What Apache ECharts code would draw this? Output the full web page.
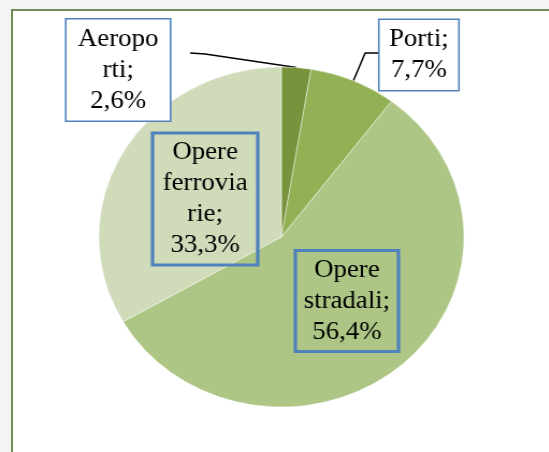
<!DOCTYPE html>
<html>
<head>
<meta charset="utf-8">
<script src="https://cdn.jsdelivr.net/npm/echarts@6/dist/echarts.min.js"></script>
<style>
    body{margin:0;background:#f4f4f2;overflow:hidden;}
    /*外框*/
    #frame{position:absolute;left:11px;top:9px;width:600px;height:500px;background:#fff;
        border-left:2px solid #6f8d55;border-top:2px solid #6f8d55;}
    /*原图横向拉伸，所以整体 scaleX*/
    #main{position:absolute;left:0;top:0;width:511px;height:452px;
        transform:scaleX(1.074);transform-origin:0 0;}
</style>
</head>
<body>
<div id="frame"></div>
<div id="main"></div>
<script>
// 数据
var categories = ["Aeroporti", "Porti", "Opere stradali", "Opere ferroviarie"];
var values = [2.6, 7.7, 56.4, 33.3];
var labelTexts = ["Aeropo\nrti;\n2,6%", "Porti;\n7,7%", "Opere\nstradali;\n56,4%", "Opere\nferrovia\nrie;\n33,3%"];
var colors = ["#77933c", "#92b054", "#adc686", "#cfdbb9"];

var myChart = echarts.init(document.getElementById("main"));

// 标签位置（框中心）和宽度
var labelBox = [
    {x:110, y:70, w:88, inside:false},
    {x:390, y:55, w:65, inside:false},
    {x:323, y:301, w:88, inside:true},
    {x:191, y:199, w:90, inside:true}
];

var pieData = [];
for(var i=0;i<categories.length;i++){
    var box = labelBox[i];
    pieData.push({
        name: categories[i],
        value: values[i],
        itemStyle: {color: colors[i]},
        label: {
            position: box.inside ? "inside" : "outside",
            backgroundColor: box.inside ? "transparent" : "#fff",
            width: box.w,
            fontFamily: "serif"
        },
        labelLine: {show: !box.inside}
    });
}

var option = {
    animation: false,
    textStyle: {fontFamily: "serif"},
    series: [
        {
            type: "pie",
            center: [262, 237],
            radius: 170,
            startAngle: 90,
            clockwise: true,
            data: pieData,
            itemStyle: {borderColor: "rgba(255,255,255,0.6)", borderWidth: 0.7},
            label: {
                formatter: function(p){ return labelTexts[p.dataIndex]; },
                fontFamily: "serif",
                fontSize: 25,
                lineHeight: 31,
                color: "#000",
                textBorderWidth: 0,
                align: "center",
                borderColor: "#4f81bd",
                borderWidth: 1.6,
                padding: [4, 4]
            },
            labelLine: {
                lineStyle: {color: "#000", width: 1.5}
            },
            labelLayout: function(params){
                var box = labelBox[params.dataIndex];
                var res = {x: box.x, y: box.y, align: "center", verticalAlign: "middle"};
                var pts = params.labelLinePoints;
                if(!box.inside && pts){
                    var p0 = pts[0];
                    var end, elbow;
                    if(params.dataIndex == 0){
                        end = [box.x + 67, 53];
                        elbow = [end[0] + 14, 54];
                    }else{
                        end = [box.x - 38, 53];
                        elbow = [end[0] - 12, 53];
                    }
                    res.labelLinePoints = [p0, elbow, end];
                }
                return res;
            }
        }
    ]
};

myChart.setOption(option);
</script>
</body>
</html>
